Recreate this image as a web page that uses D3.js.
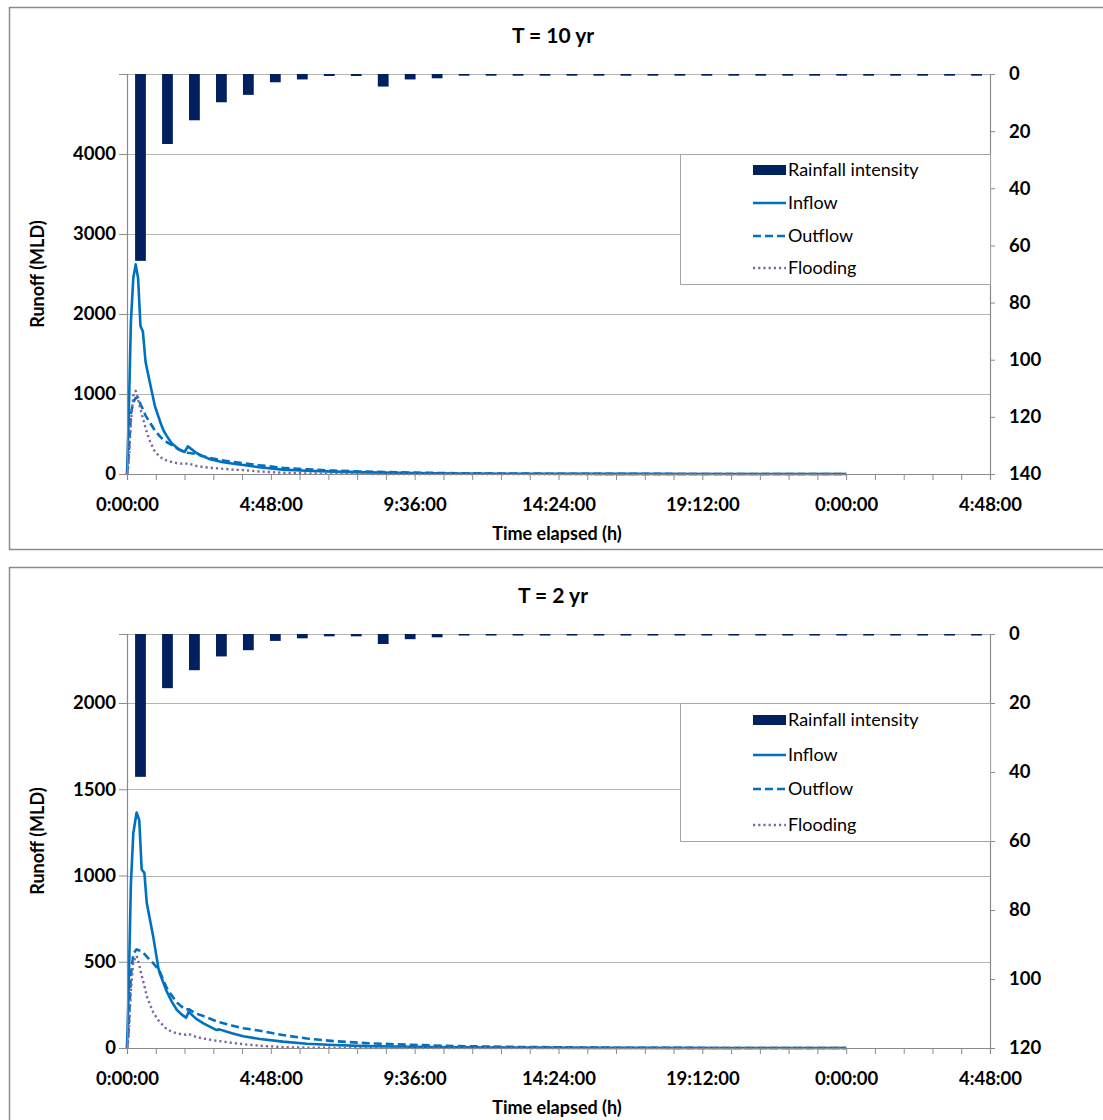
<!DOCTYPE html>
<html>
<head>
<meta charset="utf-8">
<script src="https://cdn.jsdelivr.net/npm/d3@7"></script>
<style>
    body { margin: 0; background: #fff; }
    text { font-family: Lato, "Open Sans", sans-serif; fill: #000; }
</style>
</head>
<body>
<svg id="fig" width="1103" height="1120"></svg>
<script>
// x axis, hours elapsed
var tickHours = [0, 4.8, 9.6, 14.4, 19.2, 24, 28.8];
var tickLabels = ["0:00:00", "4:48:00", "9:36:00", "14:24:00", "19:12:00", "0:00:00", "4:48:00"];
var seriesNames = ["Rainfall intensity", "Inflow", "Outflow", "Flooding"];

// T = 10 yr
var rain10 = [65.4, 24.5, 16.2, 9.9, 7.3, 2.9, 1.9, 0.7, 0.7, 4.4, 1.9, 1.5, 0.6, 0.6, 0.6, 0.6,
              0.6, 0.6, 0.6, 0.6, 0.6, 0.6, 0.6, 0.6, 0.6, 0.6, 0.6, 0.6, 0.6, 0.6, 0.6, 0.6];
var time10 = [0, 0.05, 0.13, 0.21, 0.29, 0.37, 0.45, 0.53, 0.62, 0.77, 0.93, 1.1, 1.21, 1.32, 1.49, 1.66, 1.77, 1.92,
              2.03, 2.33, 2.5, 2.77, 3.1, 3.44, 3.88, 4.4, 5.2, 6.0, 6.9, 8.0, 9.5, 11, 13, 16, 20, 24];
var inflow10 = [0, 600, 1900, 2450, 2620, 2450, 1850, 1780, 1400, 1130, 850, 660, 550, 480, 385, 330, 300, 275,
                345, 260, 230, 185, 155, 135, 112, 85, 55, 40, 30, 20, 12, 7, 3, 1, 0, 0];
var outflow10 = [0, 200, 750, 900, 950, 955, 870, 810, 730, 640, 545, 470, 430, 400, 365, 320, 300, 280,
                 265, 250, 225, 200, 175, 155, 135, 110, 78, 58, 42, 30, 18, 10, 5, 2, 0, 0];
var flooding10 = [0, 100, 650, 980, 1040, 930, 810, 700, 570, 405, 280, 215, 185, 170, 150, 135, 130, 125,
                  133, 100, 90, 78, 68, 58, 48, 32, 15, 7, 3, 1, 0, 0, 0, 0, 0, 0];
var leftTicks10 = [0, 1000, 2000, 3000, 4000];

// T = 2 yr
var rain2 = [41.4, 15.7, 10.5, 6.5, 4.7, 2.0, 1.25, 0.67, 0.67, 2.9, 1.5, 0.96, 0.45, 0.45, 0.45, 0.45,
             0.45, 0.45, 0.45, 0.45, 0.45, 0.45, 0.45, 0.45, 0.45, 0.45, 0.45, 0.45, 0.45, 0.45, 0.45, 0.45];
var time2 = [0, 0.05, 0.13, 0.21, 0.32, 0.41, 0.49, 0.58, 0.66, 0.77, 0.88, 1.05, 1.1, 1.32, 1.49, 1.66, 1.82, 1.97,
             2.06, 2.3, 2.55, 2.99, 3.08, 3.5, 3.88, 4.44, 5.2, 6.0, 6.9, 8.0, 9.5, 11, 13, 16, 20, 24];
var inflow2 = [0, 300, 950, 1245, 1365, 1320, 1035, 1015, 840, 740, 640, 460, 430, 330, 270, 222, 195, 175,
               210, 170, 143, 104, 108, 85, 68, 52, 37, 25, 17, 11, 7, 4, 2, 1, 0, 0];
var outflow2 = [0, 100, 420, 545, 572, 565, 555, 545, 530, 510, 490, 455, 440, 350, 305, 265, 240, 222,
                225, 200, 185, 155, 150, 130, 115, 100, 75, 55, 40, 28, 18, 11, 6, 2, 0, 0];
var flooding2 = [0, 50, 330, 500, 535, 480, 420, 360, 300, 250, 205, 160, 150, 110, 95, 85, 80, 77,
                 81, 65, 55, 42, 40, 30, 22, 13, 5, 2, 1, 0, 0, 0, 0, 0, 0, 0];
var leftTicks2 = [0, 500, 1000, 1500, 2000];

var svg = d3.select("#fig");
var plotLeft = 127, plotRight = 990;
var gridColor = "#b4b4b4", axisColor = "#8a8a8a";
var barColor = "#002060", flowColor = "#0070c0", floodColor = "#8064a2";

var charts = [
    {title: "T = 10 yr", boxTop: 7, boxH: 542, top: 74, bottom: 474, yMax: 5000, rMax: 140,
     leftTicks: leftTicks10, rain: rain10, time: time10,
     inflow: inflow10, outflow: outflow10, flooding: flooding10,
     legTop: 154, legBottom: 284, legRows: [170, 203, 236, 268]},
    {title: "T = 2 yr", boxTop: 567, boxH: 600, top: 634, bottom: 1048, yMax: 2400, rMax: 120,
     leftTicks: leftTicks2, rain: rain2, time: time2,
     inflow: inflow2, outflow: outflow2, flooding: flooding2,
     legTop: 703, legBottom: 841, legRows: [720, 755, 789, 825]}
];

var lineStyles = [
    {key: "inflow", color: flowColor, dash: null, width: 2.6},
    {key: "outflow", color: flowColor, dash: "8,4", width: 2.6},
    {key: "flooding", color: floodColor, dash: "2.2,3", width: 2.4}
];

function drawChart(c) {
    var g = svg.append("g");

    //outer chart frame
    g.append("rect").attr("x", 9.5).attr("y", c.boxTop + 0.5).attr("width", 1110).attr("height", c.boxH)
        .attr("fill", "#fff").attr("stroke", "#8c8c8c").attr("stroke-width", 1.5);

    var x = d3.scaleLinear().domain([0, 28.8]).range([plotLeft, plotRight]);
    var y = d3.scaleLinear().domain([0, c.yMax]).range([c.bottom, c.top]);
    var yr = d3.scaleLinear().domain([0, c.rMax]).range([c.top, c.bottom]);
    var xb = d3.scaleBand().domain(d3.range(c.rain.length)).range([plotLeft, plotRight])
        .paddingInner(0.6).paddingOuter(0.3);

    //gridlines
    g.append("g").selectAll("line").data(c.leftTicks.slice(1)).join("line")
        .attr("x1", plotLeft).attr("x2", plotRight)
        .attr("y1", function (d) { return Math.round(y(d)) + 0.5; })
        .attr("y2", function (d) { return Math.round(y(d)) + 0.5; })
        .attr("stroke", gridColor).attr("stroke-width", 1);
    g.append("line").attr("x1", plotLeft).attr("x2", plotRight)
        .attr("y1", c.top + 0.5).attr("y2", c.top + 0.5).attr("stroke", gridColor);

    //rainfall bars hang from the top
    g.append("g").selectAll("rect").data(c.rain).join("rect")
        .attr("x", function (d, i) { return xb(i); })
        .attr("width", xb.bandwidth())
        .attr("y", yr(0))
        .attr("height", function (d) { return yr(d) - yr(0); })
        .attr("fill", barColor);

    //runoff lines
    lineStyles.forEach(function (s) {
        var vals = c[s.key];
        var line = d3.line()
            .x(function (d, i) { return x(c.time[i]); })
            .y(function (d) { return y(d); });
        g.append("path").datum(vals).attr("d", line)
            .attr("fill", "none").attr("stroke", s.color).attr("stroke-width", s.width)
            .attr("stroke-dasharray", s.dash).attr("stroke-linejoin", "round");
    });

    //left axis
    var ax = g.append("g").attr("transform", "translate(" + plotLeft + ",0)")
        .call(d3.axisLeft(y).tickValues(c.leftTicks).tickSize(8).tickPadding(3).tickFormat(d3.format("d")));
    //right axis
    var ar = g.append("g").attr("transform", "translate(" + plotRight + ",0)")
        .call(d3.axisRight(yr).ticks(7).tickSize(5).tickPadding(14));
    //bottom axis: small ticks every 0.96 h, labels every 4.8 h
    var minor = d3.range(0, 30).map(function (i) { return i * 0.96; }).concat([28.8]);
    var ab = g.append("g").attr("transform", "translate(0," + c.bottom + ")")
        .call(d3.axisBottom(x).tickValues(minor).tickSize(6).tickPadding(18)
            .tickFormat(function (d) {
                var k = tickHours.findIndex(function (h) { return Math.abs(h - d) < 1e-6; });
                return k < 0 ? "" : tickLabels[k];
            }));

    [ax, ar, ab].forEach(function (a) {
        a.select(".domain").attr("stroke", axisColor).attr("stroke-width", 1.2);
        a.selectAll(".tick line").attr("stroke", axisColor);
        a.selectAll("text").attr("font-size", 18.5).attr("font-weight", "bold").attr("fill", "#000");
    });

    //titles
    g.append("text").attr("x", 553).attr("y", c.boxTop + 36).attr("text-anchor", "middle")
        .attr("font-size", 21).attr("font-weight", "bold").text(c.title);
    g.append("text").attr("transform", "translate(44," + (c.top + c.bottom) / 2 + ") rotate(-90)")
        .attr("text-anchor", "middle").attr("font-size", 18).attr("font-weight", "bold").text("Runoff (MLD)");
    g.append("text").attr("x", 557).attr("y", c.bottom + 66).attr("text-anchor", "middle")
        .attr("font-size", 18).attr("font-weight", "bold").text("Time elapsed (h)");

    //legend
    var lg = g.append("g");
    lg.append("rect").attr("x", 680.5).attr("y", c.legTop + 0.5).attr("width", 310).attr("height", c.legBottom - c.legTop)
        .attr("fill", "#fff").attr("stroke", "#a6a6a6");
    seriesNames.forEach(function (name, i) {
        var ry = c.legRows[i];
        if (i === 0) {
            lg.append("rect").attr("x", 753).attr("y", ry - 5).attr("width", 33).attr("height", 10).attr("fill", barColor);
        } else {
            var s = lineStyles[i - 1];
            lg.append("line").attr("x1", 753).attr("x2", 786).attr("y1", ry).attr("y2", ry)
                .attr("stroke", s.color).attr("stroke-width", s.width).attr("stroke-dasharray", s.dash);
        }
        lg.append("text").attr("x", 788).attr("y", ry + 6).attr("font-size", 18).text(name);
    });
}

charts.forEach(drawChart);
</script>
</body>
</html>
